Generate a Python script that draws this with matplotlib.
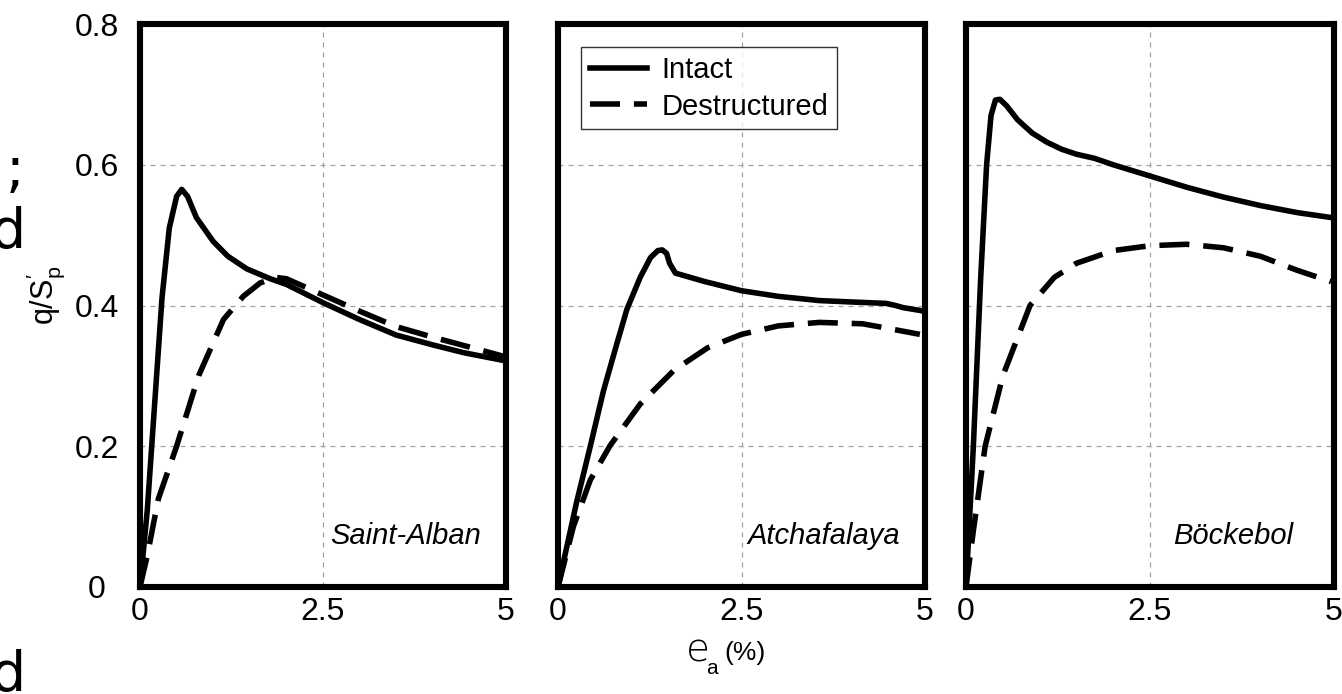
import matplotlib
matplotlib.use("Agg")
import matplotlib.pyplot as plt
import numpy as np

plt.rcParams["font.family"] = ["Liberation Sans", "DejaVu Sans"]
plt.rcParams["mathtext.fontset"] = "custom"
plt.rcParams["mathtext.rm"] = "Liberation Sans"
plt.rcParams["mathtext.it"] = "Liberation Sans:italic"

# ---- data (strain %, q/s'p) ----
names = ["Saint-Alban", "Atchafalaya", "Böckebol"]

sa_int_x = [0, 0.1, 0.2, 0.3, 0.4, 0.5, 0.57, 0.65, 0.77, 1.0, 1.2, 1.46, 1.78, 2.0, 2.5, 3.0, 3.5, 4.0, 4.42, 4.96]
sa_int_y = [0, 0.11, 0.26, 0.41, 0.51, 0.555, 0.565, 0.555, 0.525, 0.491, 0.47, 0.452, 0.438, 0.43, 0.404, 0.38, 0.358, 0.344, 0.333, 0.322]
sa_des_x = [0, 0.1, 0.25, 0.5, 0.8, 1.14, 1.41, 1.64, 1.85, 2.0, 2.5, 3.0, 3.5, 4.0, 4.5, 4.96]
sa_des_y = [0, 0.045, 0.125, 0.2, 0.3, 0.38, 0.413, 0.432, 0.44, 0.438, 0.415, 0.392, 0.37, 0.355, 0.341, 0.328]

at_int_x = [0, 0.25, 0.44, 0.62, 0.8, 0.94, 1.12, 1.26, 1.36, 1.42, 1.48, 1.52, 1.6, 2.0, 2.5, 3.0, 3.56, 4.0, 4.47, 4.6, 4.7, 4.93]
at_int_y = [0, 0.119, 0.2, 0.279, 0.345, 0.395, 0.44, 0.468, 0.478, 0.479, 0.474, 0.46, 0.446, 0.434, 0.421, 0.413, 0.407, 0.405, 0.403, 0.4, 0.397, 0.393]
at_des_x = [0, 0.21, 0.44, 0.71, 1.12, 1.58, 2.04, 2.5, 3.0, 3.56, 4.15, 4.47, 4.93]
at_des_y = [0, 0.086, 0.152, 0.201, 0.26, 0.308, 0.34, 0.359, 0.371, 0.376, 0.374, 0.368, 0.359]

bo_int_x = [0, 0.1, 0.2, 0.28, 0.34, 0.4, 0.46, 0.55, 0.7, 0.9, 1.1, 1.3, 1.5, 1.75, 2.0, 2.5, 3.0, 3.5, 4.0, 4.5, 4.96]
bo_int_y = [0, 0.2, 0.44, 0.6, 0.67, 0.692, 0.693, 0.684, 0.664, 0.645, 0.632, 0.622, 0.615, 0.609, 0.6, 0.584, 0.568, 0.554, 0.542, 0.532, 0.525]
bo_des_x = [0, 0.1, 0.26, 0.5, 0.87, 1.2, 1.5, 2.0, 2.5, 3.0, 3.5, 4.0, 4.5, 4.96]
bo_des_y = [0, 0.08, 0.2, 0.3, 0.4, 0.44, 0.46, 0.478, 0.485, 0.487, 0.482, 0.47, 0.45, 0.434]

series = [(sa_int_x, sa_int_y, sa_des_x, sa_des_y),
          (at_int_x, at_int_y, at_des_x, at_des_y),
          (bo_int_x, bo_int_y, bo_des_x, bo_des_y)]

W, H = 1342, 694
fig = plt.figure(figsize=(W / 100, H / 100), dpi=100)

lefts = [140, 558, 966]
widths = [366, 367, 368]
top, bot = 24, 587

axes = []
for i, (l, w) in enumerate(zip(lefts, widths)):
    ax = fig.add_axes([l / W, 1 - bot / H, w / W, (bot - top) / H])
    ix, iy, dx, dy = series[i]
    ax.plot(ix, iy, color="black", lw=4.0, label="Intact", zorder=3)
    ax.plot(dx, dy, color="black", lw=4.0, linestyle=(0, (5.4, 2.5)), label="Destructured", zorder=3)
    ax.set_xlim(0, 5)
    ax.set_ylim(0, 0.8)
    ax.set_xticks([0, 2.5, 5])
    ax.set_xticklabels(["0", "2.5", "5"])
    ax.set_yticks([0, 0.2, 0.4, 0.6, 0.8])
    ax.grid(True, color="#a0a0a0", lw=0.9, linestyle=(0, (4, 4)))
    ax.tick_params(length=0, labelsize=23)
    ax.tick_params(axis="x", pad=7)
    for s in ax.spines.values():
        s.set_linewidth(4.4)
        s.set_color("black")
    if i == 0:
        ax.set_yticklabels(["0", "0.2", "0.4", "0.6", "0.8"])
        for t in ax.get_yticklabels():
            t.set_horizontalalignment("center")
        ax.tick_params(axis="y", pad=31)
    else:
        ax.set_yticklabels([])
    ax.text(0.725, 0.09, names[i], transform=ax.transAxes, ha="center", va="center",
            fontsize=21, style="italic")
    axes.append(ax)

leg = axes[1].legend(loc="upper left", bbox_to_anchor=(0.063, 0.959), fontsize=21,
                     frameon=True, fancybox=False, handlelength=1.95, borderpad=0.3,
                     labelspacing=0.3, handletextpad=0.5, borderaxespad=0)
leg.get_frame().set_edgecolor("black")
leg.get_frame().set_linewidth(1.0)

# y label
fig.text(46 / W, 1 - 295 / H, r"q/S$_\mathregular{p}^{\prime}$", rotation=90,
         ha="center", va="center", fontsize=22)
# x label: thin e with subscript a, then (%)
fig.text(698 / W, 1 - 651 / H, "e", ha="center", va="center", fontsize=28,
         family="DejaVu Sans", fontweight="light")
fig.text(712 / W, 1 - 668 / H, "a", ha="center", va="center", fontsize=15)
fig.text(745 / W, 1 - 653 / H, "(%)", ha="center", va="center", fontsize=19)

# clipped text fragments at the left edge of the reference
fig.text(24 / W, 1 - 172 / H, ";", ha="right", va="center", fontsize=40, family="DejaVu Sans")
fig.text(26 / W, 1 - 233 / H, "d", ha="right", va="center", fontsize=40, family="DejaVu Sans")
fig.text(26 / W, 1 - 676 / H, "d", ha="right", va="center", fontsize=40, family="DejaVu Sans")

fig.savefig("out.png", dpi=100)
